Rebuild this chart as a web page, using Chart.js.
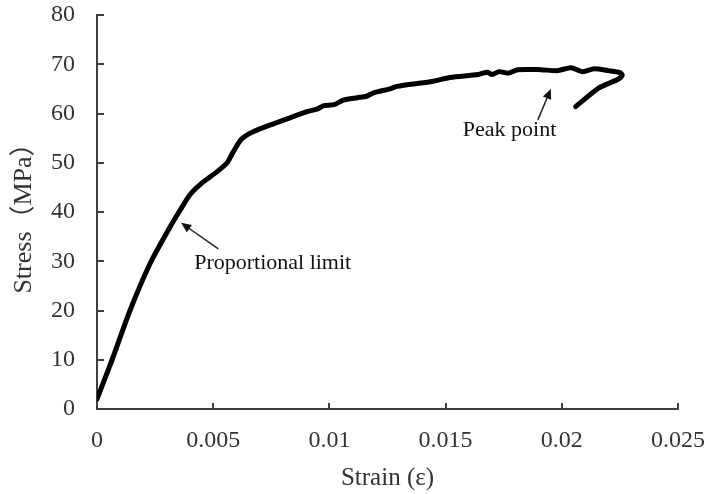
<!DOCTYPE html>
<html>
<head>
<meta charset="utf-8">
<script src="https://cdn.jsdelivr.net/npm/chart.js@4.4.1/dist/chart.umd.min.js"></script>
<style>
  html, body { margin: 0; padding: 0; background: #fff; }
  #wrap { width: 708px; height: 494px; position: relative; }
</style>
</head>
<body>
<div id="wrap"><canvas id="stressChart"></canvas></div>
<script>
// ===== STRESS-STRAIN CURVE =====

// strain (x) and stress in MPa (y)
const strain = [
    0, 0.00065, 0.00142, 0.00228, 0.00315, 0.00358, 0.0040, 0.00457, 0.00517, 0.0056,
    0.00586, 0.00622, 0.00672, 0.00759, 0.00904, 0.00947, 0.00976, 0.0102, 0.0106, 0.0112,
    0.0116, 0.0119, 0.0126, 0.0129, 0.0144, 0.0152, 0.0164, 0.0168, 0.0170, 0.0173,
    0.0177, 0.0181, 0.0191, 0.0198, 0.0204, 0.0209, 0.0214, 0.0220, 0.0225, 0.0226,
    0.0224, 0.0216, 0.0206
];
const stress = [
    2.0, 10.0, 20.0, 29.5, 37.0, 40.4, 43.5, 46.1, 48.2, 50.0,
    52.2, 54.8, 56.3, 57.9, 60.4, 60.9, 61.6, 61.8, 62.7, 63.2,
    63.5, 64.2, 65.0, 65.5, 66.5, 67.3, 67.9, 68.4, 67.9, 68.5,
    68.2, 68.9, 68.9, 68.7, 69.3, 68.5, 69.1, 68.7, 68.3, 67.8,
    66.9, 65.2, 61.4
];

const xTickLabels = ['0', '0.005', '0.01', '0.015', '0.02', '0.025'];
const yTickLabels = ['0', '10', '20', '30', '40', '50', '60', '70', '80'];

// annotations: text anchor and arrow (tail -> head), in data units
const notes = [
    { text: 'Proportional limit', at: [0.00418, 29.7], tail: [0.00522, 32.5], head: [0.00362, 37.8] },
    { text: 'Peak point', at: [0.01574, 56.6], tail: [0.01897, 58.7], head: [0.01953, 65.0] }
];

const serif = '"Liberation Serif", "Times New Roman", "Noto Sans CJK SC", serif';
Chart.defaults.font.family = serif;
Chart.defaults.color = '#333';

// ===== Inward ticks + annotations =====
const extras = {
    id: 'extras',
    afterDraw(chart) {
        const { ctx, chartArea: area, scales: { x, y } } = chart;
        ctx.save();

        // tick marks point into the plot
        ctx.strokeStyle = '#404040';
        ctx.lineWidth = 2;
        ctx.beginPath();
        x.ticks.forEach(t => {
            const px = Math.round(x.getPixelForValue(t.value));
            ctx.moveTo(px, area.bottom);
            ctx.lineTo(px, area.bottom - 6);
        });
        y.ticks.forEach(t => {
            const py = Math.round(y.getPixelForValue(t.value));
            ctx.moveTo(area.left, py);
            ctx.lineTo(area.left + 7, py);
        });
        ctx.stroke();

        // annotation labels and arrows
        ctx.fillStyle = '#111';
        ctx.strokeStyle = '#222';
        ctx.font = '22px ' + serif;
        ctx.textAlign = 'left';
        ctx.textBaseline = 'middle';
        notes.forEach(n => {
            ctx.fillText(n.text, x.getPixelForValue(n.at[0]), y.getPixelForValue(n.at[1]));

            const x0 = x.getPixelForValue(n.tail[0]), y0 = y.getPixelForValue(n.tail[1]);
            const x1 = x.getPixelForValue(n.head[0]), y1 = y.getPixelForValue(n.head[1]);
            const ang = Math.atan2(y1 - y0, x1 - x0);
            const len = 11, half = 0.42;

            ctx.lineWidth = 1.5;
            ctx.beginPath();
            ctx.moveTo(x0, y0);
            ctx.lineTo(x1 - Math.cos(ang) * len * 0.7, y1 - Math.sin(ang) * len * 0.7);
            ctx.stroke();

            ctx.beginPath();
            ctx.moveTo(x1, y1);
            ctx.lineTo(x1 - len * Math.cos(ang - half), y1 - len * Math.sin(ang - half));
            ctx.lineTo(x1 - len * Math.cos(ang + half), y1 - len * Math.sin(ang + half));
            ctx.closePath();
            ctx.fill();
        });

        ctx.restore();
    }
};

const ctx = document.getElementById('stressChart').getContext('2d');
const stressChart = new Chart(ctx, {
    type: 'scatter',
    data: {
        datasets: [{
            label: 'Stress',
            data: strain.map((s, i) => ({ x: s, y: stress[i] })),
            showLine: true,
            borderColor: '#000',
            borderWidth: 5,
            borderCapStyle: 'round',
            borderJoinStyle: 'round',
            tension: 0.25,
            pointRadius: 0,
            fill: false
        }]
    },
    options: {
        responsive: true,
        maintainAspectRatio: false,
        animation: false,
        layout: { padding: { top: 15, right: 30, left: 0, bottom: 0 } },
        plugins: {
            legend: { display: false },
            tooltip: { enabled: false }
        },
        scales: {
            x: {
                type: 'linear',
                min: 0,
                max: 0.025,
                afterFit: s => {
                    s.height = 85;
                    s.paddingLeft = 0;
                    s.paddingRight = 0;
                },
                border: { display: true, color: '#404040', width: 2 },
                grid: { display: true, drawOnChartArea: false, drawTicks: false },
                ticks: {
                    stepSize: 0.005,
                    padding: 17,
                    color: '#333',
                    font: { size: 24 },
                    maxRotation: 0,
                    callback: (v, i) => xTickLabels[i]
                },
                title: {
                    display: true,
                    text: 'Strain (ε)',
                    color: '#333',
                    font: { size: 25 },
                    padding: { top: 0, bottom: 1 }
                }
            },
            y: {
                type: 'linear',
                min: 0,
                max: 80,
                afterFit: s => {
                    s.width = 97;
                    s.paddingTop = 0;
                    s.paddingBottom = 0;
                },
                border: { display: true, color: '#404040', width: 2 },
                grid: { display: true, drawOnChartArea: false, drawTicks: false },
                ticks: {
                    stepSize: 10,
                    padding: 22,
                    color: '#333',
                    font: { size: 24 },
                    callback: (v, i) => yTickLabels[i]
                },
                title: {
                    display: true,
                    text: 'Stress（MPa）',
                    color: '#333',
                    font: { size: 26 },
                    padding: { top: 9, bottom: 0 }
                }
            }
        }
    },
    plugins: [extras]
});
</script>
</body>
</html>
